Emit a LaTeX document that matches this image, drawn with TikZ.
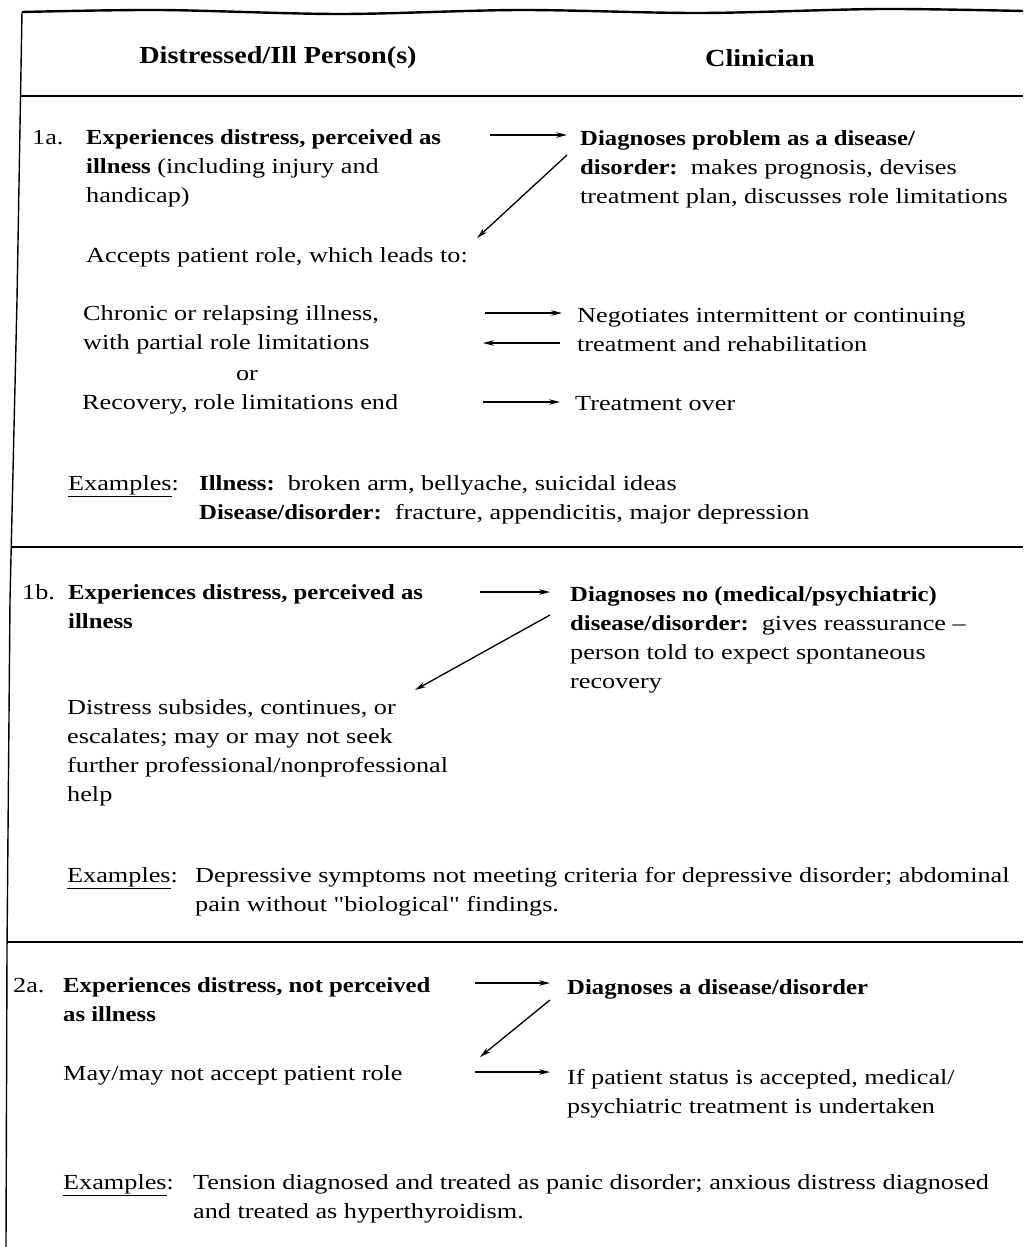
\documentclass[tikz,border=0pt]{standalone}
\usepackage{fontspec}
\setmainfont{Liberation Serif}[FakeStretch=1.22, BoldFeatures={FakeStretch=1.15}]
\newfontfamily\plainquote{Liberation Serif}[FakeStretch=1.22]
\newcommand{\sq}{{\plainquote"}}
\usetikzlibrary{arrows.meta, positioning}

\begin{document}
\begin{tikzpicture}[x=1pt, y=-1pt,
	font=\fontsize{21.5}{28.8}\selectfont,
	txt/.style={anchor=base west, inner sep=0pt, align=left},
	head/.style={inner sep=0pt, font=\fontsize{24.5}{28}\selectfont\bfseries},
	rule/.style={line width=2.4pt},
	flow/.style={line width=1.3pt, -{Stealth[length=11pt, width=5.5pt]}}]
	
	\useasboundingbox (0,0) rectangle (1023,1247);
	
	% frame and rules
	\draw[rule] plot[smooth] coordinates {(22,12) (160,10) (340,14) (520,10) (700,13) (880,9) (1023,11)};
	\draw[line width=1.4pt] (22,12) -- (17,300) -- (10,600) -- (7,950) -- (6,1247);
	\draw[rule] (21,96) -- (1023,96);
	\draw[rule] (11,547) -- (1023,547);
	\draw[rule] (7,942) -- (1023,942);
	
	\node[head] (person) at (278,58) 	{Distressed/Ill Person(s)};
	\node[head] (clin) at (760,58) 		{Clinician};
	
	% 1a (multi-line nodes sit on their last line)
	\node[txt] (l1a) at (32,144) 		{1a.};
	\node[txt] (p1a) at (86,202) 		{\textbf{Experiences distress, perceived as}\\\textbf{illness} (including injury and\\handicap)};
	\node[txt] (c1a) at (580,203) 		{\textbf{Diagnoses problem as a disease/}\\\textbf{disorder:}\ \ makes prognosis, devises\\treatment plan, discusses role limitations};
	\node[txt] (role1a) at (86,262) 	{Accepts patient role, which leads to:};
	\node[txt] (chron) at (83,349) 		{Chronic or relapsing illness,\\with partial role limitations};
	\node[txt, anchor=base] (or) at (247,380) {or};
	\node[txt] (recov) at (82,409) 		{Recovery, role limitations end};
	\node[txt] (nego) at (577,351) 		{Negotiates intermittent or continuing\\treatment and rehabilitation};
	\node[txt] (over) at (575,410) 		{Treatment over};
	\node[txt] (ex1a) at (68,490) 		{\underline{Examples}:};
	\node[txt] (exi1a) at (199,519) 	{\textbf{Illness:}\ \ broken arm, bellyache, suicidal ideas\\\textbf{Disease/disorder:}\ \ fracture, appendicitis, major depression};
	
	\coordinate (s1a) at (490,135);
	\coordinate (t1a) at (567,135);
	\coordinate (d1a) at (567,155);
	\coordinate (e1a) at (477,238);
	\coordinate (ch1) at (485,313);
	\coordinate (ch2) at (562,313);
	\coordinate (ng1) at (560,343);
	\coordinate (ng2) at (483,343);
	\coordinate (rc1) at (483,402);
	\coordinate (rc2) at (560,402);
	
	\draw[flow] (s1a) -- (t1a);
	\draw[flow] (d1a) -- (e1a);
	\draw[flow] (ch1) -- (ch2);
	\draw[flow] (ng1) -- (ng2);
	\draw[flow] (rc1) -- (rc2);
	
	% 1b
	\node[txt] (l1b) at (22,599) 		{1b.};
	\node[txt] (p1b) at (68,628) 		{\textbf{Experiences distress, perceived as}\\\textbf{illness}};
	\node[txt] (c1b) at (570,688) 		{\textbf{Diagnoses no (medical/psychiatric)}\\\textbf{disease/disorder:}\ \ gives reassurance --\\person told to expect spontaneous\\recovery};
	\node[txt] (sub1b) at (67,801) 		{Distress subsides, continues, or\\escalates; may or may not seek\\further professional/nonprofessional\\help};
	\node[txt] (ex1b) at (67,882) 		{\underline{Examples}:};
	\node[txt] (exd1b) at (195,911) 	{Depressive symptoms not meeting criteria for depressive disorder; abdominal\\pain without \sq biological\sq\ findings.};
	
	\coordinate (s1b) at (480,592);
	\coordinate (t1b) at (550,592);
	\coordinate (d1b) at (550,615);
	\coordinate (e1b) at (415,690);
	
	\draw[flow] (s1b) -- (t1b);
	\draw[flow] (d1b) -- (e1b);
	
	% 2a
	\node[txt] (l2a) at (13,992) 		{2a.};
	\node[txt] (p2a) at (63,1021) 		{\textbf{Experiences distress, not perceived}\\\textbf{as illness}};
	\node[txt] (c2a) at (567,994) 		{\textbf{Diagnoses a disease/disorder}};
	\node[txt] (may2a) at (63,1080) 	{May/may not accept patient role};
	\node[txt] (treat2a) at (567,1113) 	{If patient status is accepted, medical/\\psychiatric treatment is undertaken};
	\node[txt] (ex2a) at (63,1189) 		{\underline{Examples}:};
	\node[txt] (ext2a) at (193,1218) 	{Tension diagnosed and treated as panic disorder; anxious distress diagnosed\\and treated as hyperthyroidism.};
	
	\coordinate (s2a) at (475,983);
	\coordinate (t2a) at (550,983);
	\coordinate (d2a) at (550,1000);
	\coordinate (e2a) at (480,1057);
	\coordinate (m2a) at (475,1072);
	\coordinate (n2a) at (550,1072);
	
	\draw[flow] (s2a) -- (t2a);
	\draw[flow] (d2a) -- (e2a);
	\draw[flow] (m2a) -- (n2a);
\end{tikzpicture}
\end{document}
